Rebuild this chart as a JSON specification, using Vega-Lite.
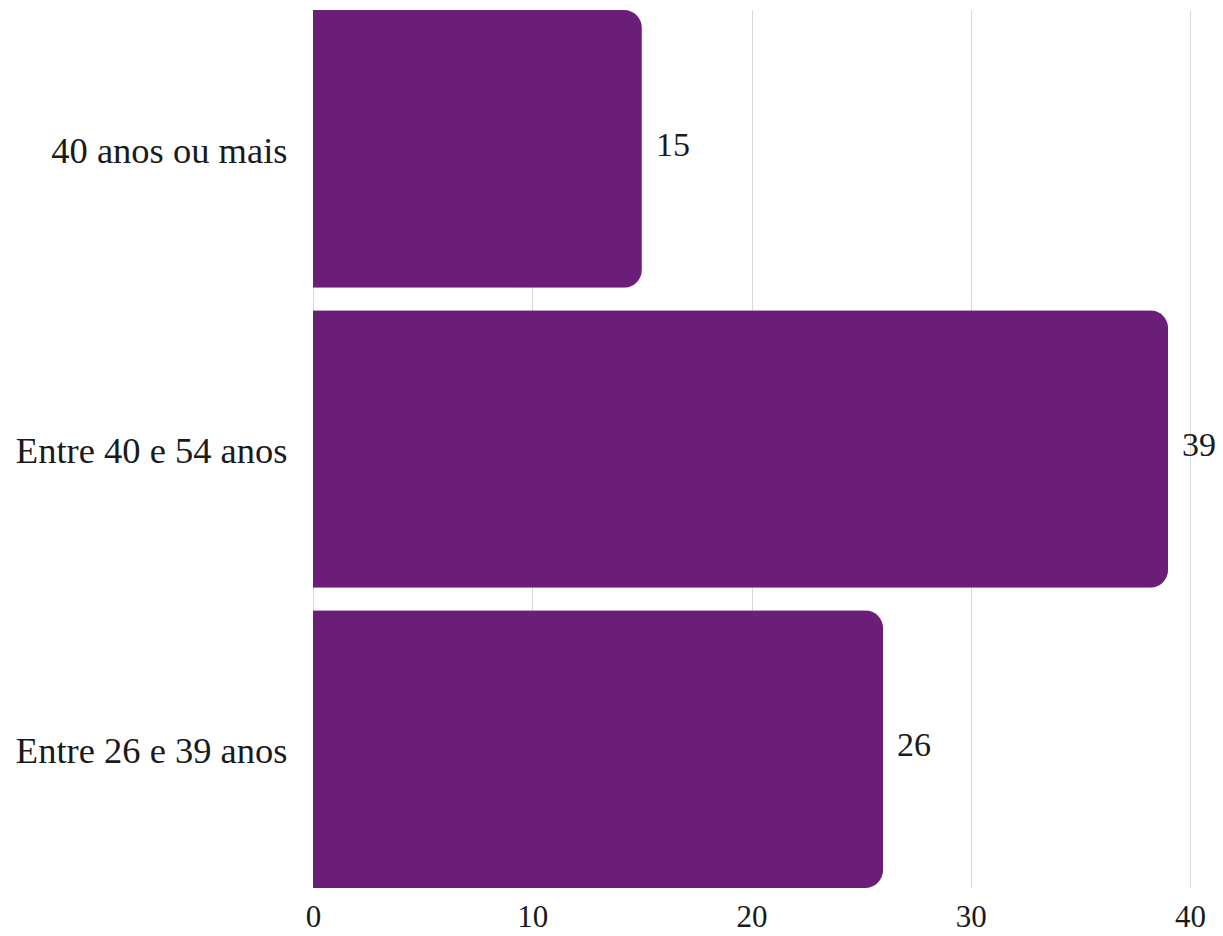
{
  "$schema": "https://vega.github.io/schema/vega-lite/v6.json",
  "autosize": {"type": "none"},
  "width": 877,
  "height": 878,
  "padding": {"left": 313, "top": 10, "right": 33, "bottom": 48},
  "background": "white",
  "config": {"view": {"stroke": null}, "font": "Liberation Serif"},
  "data": {"values": [
    {"faixa": "40 anos ou mais", "n": 15},
    {"faixa": "Entre 40 e 54 anos", "n": 39},
    {"faixa": "Entre 26 e 39 anos", "n": 26}
  ]},
  "encoding": {
    "y": {"field": "faixa", "type": "nominal", "sort": null,
      "scale": {"paddingInner": 0.075, "paddingOuter": 0},
      "axis": {"title": null, "domain": false, "ticks": false, "labelFontSize": 36.5, "labelColor": "#1a1a1a", "labelPadding": 26, "labelFont": "Liberation Serif", "labelLimit": 400, "labelOffset": 3}},
    "x": {"field": "n", "type": "quantitative",
      "scale": {"domain": [0, 40], "nice": false},
      "axis": {"title": null, "values": [0, 10, 20, 30, 40], "domain": false, "ticks": false, "grid": true, "gridColor": "#d9d9d9", "gridWidth": 1, "labelFontSize": 31, "labelColor": "#1a1a1a", "labelPadding": 14, "labelFont": "Liberation Serif", "labelFlush": false}}
  },
  "layer": [
    {"mark": {"type": "bar", "color": "#6b1e77", "cornerRadiusEnd": 18}},
    {"mark": {"type": "text", "align": "left", "baseline": "middle", "dx": 14, "dy": -3, "fontSize": 34, "color": "#1a1a1a", "font": "Liberation Serif"},
     "encoding": {"text": {"field": "n", "type": "quantitative"}}}
  ]
}
